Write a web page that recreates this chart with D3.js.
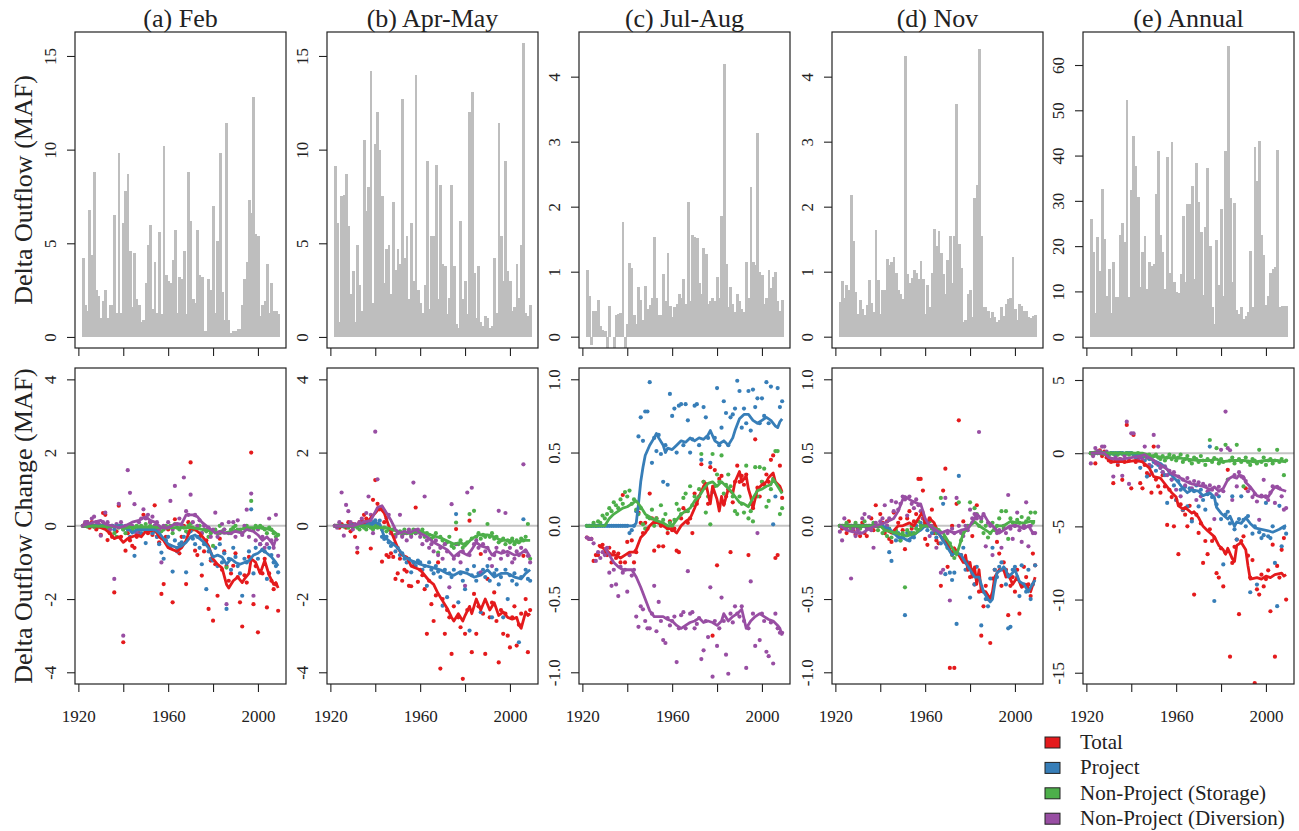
<!DOCTYPE html>
<html>
<head>
<meta charset="utf-8">
<script src="https://cdn.jsdelivr.net/npm/d3@7"></script>
<style>
  body { margin: 0; background: #fff; }
  svg { display: block; }
  text { font-family: "Liberation Serif", "Times New Roman", serif; fill: #222; }
</style>
</head>
<body>
<div id="chart"></div>
<script>
// one value per water year, 1922 .. 2009
const firstYear = 1922;

// ---- top row: delta outflow (MAF) ----
const febBars = [4.2,1.7,1.4,6.8,4.4,8.8,2.5,2.2,1.0,1.9, 2.5,1.0,1.7,1.7,6.5,1.3,9.8,1.3,6.1,7.8,
  8.7,4.6,1.6,4.5,2.0,1.7,0.8,0.9,2.9,4.9, 6.0,1.5,4.0,1.3,5.6,1.2,10.2,3.3,3.0,2.9,
  4.1,5.7,1.3,3.2,3.1,4.6,1.2,8.8,6.2,2.0, 1.8,5.7,3.3,3.2,0.3,0.3,3.1,2.5,7.0,1.3,
  5.1,9.8,2.4,0.9,11.4,0.9,0.2,0.3,0.3,0.4, 0.4,1.7,3.1,4.0,7.3,6.6,12.8,5.5,5.4,1.1,
  1.7,1.9,3.9,1.3,2.9,1.4,1.4,1.2];
const aprBars = [9.1,6.1,0.8,7.5,7.6,8.7,5.9,2.3,3.5,0.8, 4.9,2.8,1.4,10.5,6.7,8.0,14.2,1.8,10.3,12.0,
  10.0,7.5,2.9,4.7,4.9,2.3,7.2,3.6,4.7,3.9, 12.7,4.2,5.4,2.0,6.1,3.0,14.0,2.5,1.8,1.3,
  2.8,9.4,1.5,5.4,5.4,9.2,2.0,8.1,3.9,3.8, 1.2,2.1,8.1,3.8,0.7,0.5,6.2,2.0,3.0,1.2,
  12.0,13.1,3.4,1.0,3.8,0.8,0.6,1.1,1.0,0.5, 0.6,4.2,1.3,11.4,5.4,3.0,9.4,3.5,3.0,1.4,
  1.6,3.9,2.1,4.9,15.7,1.3,1.1,1.7];
const julBars = [1.03,0.62,-0.13,0.40,0.40,0.56,0.17,0.10,0.08,-0.2, 0.47,0.0,-0.2,0.33,0.35,0.37,1.77,-0.2,0.2,1.14,
  1.05,0.33,0.2,0.77,0.57,0.25,0.78,0.43,0.48,0.6, 1.53,0.6,0.33,0.33,0.97,0.55,1.29,0.47,0.3,0.45,
  0.5,0.65,0.6,0.88,0.5,2.07,0.55,1.57,1.53,1.52, 0.82,0.65,1.37,1.27,0.5,0.55,0.6,0.55,0.92,0.6,
  1.85,4.2,1.12,0.45,0.77,0.5,0.38,0.65,0.55,0.42, 0.38,1.15,0.6,2.3,1.15,1.1,3.13,1.0,0.95,0.5,
  0.6,1.02,0.75,0.92,1.0,0.55,0.4,0.57];
const novBars = [0.53,0.86,0.6,0.79,0.72,2.18,1.47,0.68,0.35,0.56, 0.43,0.33,0.48,0.87,0.52,0.38,1.64,0.87,0.35,0.72,
  0.72,1.2,1.1,1.15,1.23,0.98,0.72,0.65,0.58,4.32, 0.97,0.82,0.91,1.02,0.98,0.88,1.17,0.88,0.35,0.8,
  0.45,0.98,1.66,1.4,1.63,1.28,0.97,0.65,1.18,1.55, 0.82,1.55,3.58,1.43,1.05,0.22,0.25,0.65,0.72,0.3,
  2.13,2.33,4.43,1.55,0.45,0.45,0.4,0.28,0.38,0.3, 0.23,0.25,0.45,0.32,0.5,0.58,0.6,1.23,0.42,0.25,
  0.5,0.47,0.4,0.4,0.3,0.28,0.32,0.33];
const annBars = [25.9,18.8,5.2,22.1,14.5,32.6,21.6,9.0,15.0,5.3, 16.4,8.8,8.8,22.5,25.0,21.0,52.3,8.7,32.5,44.3,
  37.6,30.8,11.0,18.7,22.3,10.5,16.5,15.5,16.0,31.5, 41.0,22.5,18.7,10.5,39.7,14.0,43.0,12.0,9.8,9.7,
  13.8,26.7,12.0,29.3,29.3,33.3,12.8,38.3,29.8,23.2, 9.3,24.3,37.3,20.0,6.5,2.8,21.3,11.5,28.2,9.0,
  40.9,64.3,30.6,12.0,29.6,6.0,5.0,6.5,4.0,4.5, 5.5,19.0,6.5,41.8,34.3,43.3,22.5,18.0,7.0,9.0,
  14.0,15.0,15.3,41.2,6.5,6.7,6.7,6.7];

// ---- bottom row: delta outflow change (MAF), yearly points ----
const febTotal = [0,0.05,0.1,-0.05,0.1,0,-0.1,0.05,-0.25,0.35, 0.3,-0.39,-0.2,-0.3,-1.82,-0.15,0.55,-0.3,-3.18,-0.68,
  -0.2,-0.4,-0.55,-0.6,-0.3,-0.2,-0.25,0.3,-0.1,-0.2, 0.1,-0.25,0.56,-0.3,-0.45,-1.86,-1.59,-0.3,-0.1,-0.55,
  -2.09,0.18,-0.6,-0.75,-0.3,0,-1.59,0.1,1.73,-0.1, -0.68,-0.8,-0.3,-1.36,-0.7,-0.4,-2.27,-0.95,-2.59,-1.05,
  -1.91,-0.35,-1.2,-0.7,-1.1,-1.5,-1.3,-1.09,-0.75,-1.4, -2.09,-2.75,-1.35,-1.55,-0.85,2.0,-2.14,-1.1,-2.91,-1.25,
  -1.3,-0.9,-2.23,-1.3,-1.5,-1.73,-1.6,-2.32];
const febProject = [0,0,0,0,0,-0.02,0,0,0,0, 0,0,-0.05,0,-0.1,0,0,0,-0.1,-0.05,
  -0.1,-0.3,-0.15,-0.82,-0.2,-0.1,-0.2,-0.1,-0.47,-0.1, -0.05,-0.2,-0.15,-0.3,-0.5,-0.73,-0.9,-0.4,-0.3,-0.6,
  -1.25,-0.4,-0.7,-0.5,-0.45,-0.3,-1.27,-0.2,-0.15,-0.35, -0.5,-0.3,-0.6,-1.05,-0.5,-1.73,-0.7,-0.9,-0.95,-0.6,
  -1.1,-0.5,-1.0,-0.75,-2.27,-0.9,-1.2,-0.6,-0.85,-1.1, -1.3,-1.91,-0.9,-1.0,-0.7,0.45,-1.3,-0.6,-0.9,-0.5,
  -0.65,-0.7,-1.45,-0.6,-0.8,-1.0,-1.1,-1.27];
const febStorage = [0,0,-0.02,0,0.02,-0.03,0,-0.02,0,0, -0.05,-0.05,-0.1,0,-0.2,-0.3,-0.05,0,-0.1,-0.2,
  -0.05,0,-0.1,-0.05,0,-0.05,0,-0.1,0.05,-0.1, 0,-0.05,0,-0.1,-0.05,-0.15,-0.1,0,-0.05,0,
  -0.2,0.05,-0.05,-0.1,0,-0.05,-0.15,0,0.05,-0.05, -0.1,-0.05,0,-0.2,-0.1,-0.15,-0.3,-0.2,-0.55,-0.1,
  -0.2,0,-0.15,-0.1,-1.14,-0.2,-0.1,-0.05,0,-0.1, -0.15,-0.2,-0.05,0,-0.1,0.68,-0.1,0,-0.05,0,
  -0.05,-0.1,-0.2,-0.05,-0.1,-0.2,-0.3,-0.25];
const febDiversion = [0,0.1,0.1,0.05,0.2,0.25,0.1,0.05,-0.27,0.1, 0.36,0.1,-0.1,0,-1.45,0.05,0.6,0.1,-3.0,0,
  1.52,0.9,0,0.59,-0.2,0.1,0.2,0.45,0.2,0.3, 0.1,0.25,0,0.1,-0.1,-1.0,0,-0.05,0.1,0.68,
  -0.1,1.09,0.05,0.2,0,1.32,0.4,0.3,0.85,0.1, 0.3,0,0.15,-0.2,0,-0.1,-0.05,-0.3,-0.1,0.36,
  -0.3,-0.2,0.05,-0.1,-2.14,0.1,-0.2,0.1,-0.3,0.15, -0.1,-0.25,0,0.44,-0.3,0.88,-1.91,-0.4,-0.1,-0.5,
  -0.3,-0.6,-0.5,0.2,-0.4,-0.6,0.3,-0.82];

const aprTotal = [0,0,-0.05,0.05,0,-0.05,0.1,-0.15,0.05,-0.3, -0.73,0.1,0.15,0.3,0.2,0.1,-0.62,0.71,1.25,0.6,
  0.45,-0.98,0.1,-0.8,-0.85,-0.75,-0.85,-1.45,-1.3,-0.9, -1.5,-1.2,-1.25,-1.64,-1.65,-1.1,0.5,-1.53,-1.2,-1.35,
  -1.73,-2.95,-1.5,-2.14,-2.6,-1.9,-1.0,-3.9,-2.0,-2.95, -2.3,-2.5,-3.5,-2.2,-0.09,-2.5,-2.77,-4.18,-2.95,-2.3,
  0.14,-3.45,-1.86,-2.95,-2.2,-0.77,-2.4,-3.5,-1.45,-2.5, -2.1,-1.82,-2.6,-3.73,-2.3,-2.95,-2.4,-3.0,-3.32,-2.5,
  -2.2,-3.27,-2.7,-2.4,-0.82,-2.0,-3.45,-2.3];
const aprProject = [0,0,0,0,0,0,0,0,0.02,0, 0,0.05,0,0,0.05,0.1,0.05,0.1,0.15,0.05,
  0.14,-0.3,-0.36,-0.3,-0.45,-0.55,-0.5,-0.7,-0.6,-0.8, -0.75,-0.9,-1.0,-0.9,-1.27,-1.0,-1.1,-0.95,-1.0,-1.2,
  -1.1,-1.64,-1.0,-1.2,-1.3,-1.1,-1.25,-1.4,-2.18,-1.2, -1.95,-1.3,-1.4,-1.2,0.32,-2.09,-1.3,-1.5,-1.73,-1.2,
  -2.86,-1.35,-1.1,-1.5,-1.3,-2.36,-1.2,-1.4,-1.1,-1.5, -2.5,-1.3,-1.2,-1.6,-1.4,-2.5,-1.2,-2.0,-1.35,-1.5,
  -1.3,-1.6,-3.18,-1.4,0.18,-1.2,-1.45,-1.5];
const aprStorage = [0,0,0,0,-0.02,0,-0.05,0,-0.05,0, -0.05,-0.1,0,-0.05,-0.1,0,-0.05,-0.1,0,-0.05,
  0,-0.1,-0.05,-0.15,-0.1,-0.2,-0.1,-0.25,-0.2,-0.15, -0.25,-0.1,-0.2,-0.15,-0.25,-0.1,-0.2,-0.15,-0.2,-0.1,
  -0.3,-0.2,-0.25,-0.35,-0.3,-0.2,-0.73,-0.3,-0.4,-0.5, -0.45,-0.3,-0.55,-0.6,0.09,-0.5,-0.4,-0.6,-0.5,-0.45,
  0.32,-0.35,0.41,-0.3,-0.2,-0.35,-0.25,-0.3,0.05,-0.3, -0.2,-0.35,-0.3,-0.45,-0.4,-0.35,-0.5,-0.4,-0.45,-0.35,
  -0.5,-0.4,-0.45,-0.35,-0.4,-0.3,0.05,-0.9];
const aprDiversion = [0,-0.05,0.1,0.91,-0.27,0.57,0.4,0.1,-0.1,0.05, -0.6,0.1,0.2,0.1,0.35,0.8,0.3,-0.2,2.57,1.27,
  0.5,0.45,0.4,0.2,0.3,-0.2,-0.1,-0.3,-0.2,0.3, -0.3,-0.2,-0.4,-0.1,-0.3,1.18,-0.2,-0.1,-0.3,-0.5,
  0.8,-0.4,-0.6,-0.5,-0.7,-0.4,-0.8,-0.6,-0.9,-0.5, -0.7,-1.68,0.59,-0.9,-0.5,-0.8,-1.0,-0.7,-1.64,0.91,
  -0.8,1.04,-0.5,-0.4,-0.6,-1.27,-0.5,-0.7,-0.6,-0.9, -1.1,-0.8,-0.6,0.41,-0.9,-0.7,0.35,-0.8,-0.6,-1.0,
  -0.9,-0.7,-0.8,-0.6,1.68,-0.7,-0.82,-1.0];

const julTotal = [-0.08,-0.09,-0.09,-0.24,-0.2,-0.2,-0.14,-0.13,-0.18,-0.2, -0.15,-0.25,-0.18,-0.22,-0.19,-0.25,0.21,-0.25,-0.11,-0.2,
  -0.1,-0.25,-0.18,0.09,0.02,-0.05,0.02,-0.02,0.22,0.05, -0.17,0.05,-0.14,0,-0.14,0,-0.05,0.03,-0.03,-0.02,
  -0.17,-0.18,0.05,0.12,0.1,0.02,0.05,-0.05,0.22,0.15, 0.2,0.42,0.3,0.26,0.15,0.4,-0.75,0.38,-0.27,0.32,
  0.34,0.15,0.2,0.25,-0.18,0.16,0.3,0.41,0.3,0.34, 0.28,0.35,-0.2,0.15,0.12,0.59,0.26,0.2,0.3,0.28,
  0.35,0.3,0.45,0.48,-0.22,-0.2,0.41,0.19];
const julProject = [0,0,0,0,0,0,0,0,0,0, 0,0,0,0,0,0,0,0,0,-0.05,
  -0.03,0,0.1,0.61,0.74,0.58,0.78,0.78,0.98,0.43, 0.6,0.51,0.62,0.49,0.3,0.55,0.28,0.9,0.75,0.8,
  0.5,0.82,0.83,0.55,0.83,0.72,0.5,0.59,0.82,0.83, 0.55,0.45,0.81,0.74,0.6,0.43,0.23,0.6,0.94,0.55,
  0.67,0.85,0.77,0.55,0.74,0.76,0.8,0.99,0.92,0.67, 0.8,0.7,0.92,0.65,0.93,0.81,0.87,0.7,0.87,0.75,
  0.98,0.7,0.95,0.01,0.2,0.94,0.81,0.85];
const julStorage = [0,0,0,0.02,0,0.03,0.02,0.07,0.05,0.08, 0.12,0.1,0.16,0.14,0.12,0.18,0.15,0.23,0.2,0.24,
  0.15,0.18,0.11,0.08,0.12,0.01,-0.02,0.06,0.05,0.11, 0,0.05,0.02,0.14,0.04,0.08,-0.02,0.02,0,0.04,
  0.15,0.11,0.08,0.19,0.22,0.1,0.27,0.14,0.2,0.17, 0.25,0.49,0.3,0.09,0.2,0.01,0.49,0.27,0.35,0.3,
  0.48,0.22,0.28,0.35,0.27,0.2,0.1,0.08,0.2,0.15, 0.09,0.41,0.05,0.1,0.03,0.4,0.2,0.4,0.3,0.39,
  0.13,0.17,0.25,0.32,0.51,0.51,0.08,0.12];
const julDiversion = [-0.08,-0.09,-0.09,-0.12,-0.24,-0.18,-0.22,-0.18,-0.2,-0.15, -0.32,-0.41,-0.3,-0.4,-0.48,-0.28,-0.32,-0.3,-0.45,-0.2,
  -0.34,-0.3,-0.62,-0.69,-0.55,-0.57,-0.65,-0.7,-0.7,-0.6, -0.41,-0.72,-0.52,-0.65,-0.78,-0.8,-0.63,-0.68,-0.65,-0.62,
  -0.93,-0.7,-0.61,-0.59,-0.7,-0.31,-0.6,-0.59,-0.7,-0.67, -0.63,-0.91,-0.85,-0.65,-0.76,-0.42,-1.03,-0.65,-0.82,-0.7,
  -0.49,-0.65,-0.88,-1.01,-0.6,-0.66,-0.55,-0.6,-0.62,-0.55, -0.65,-0.97,-0.7,-0.38,-0.6,-0.82,-0.05,-0.78,-0.6,-0.65,
  -0.86,-0.89,-0.66,-0.94,-0.6,-0.7,-0.73,-0.73];

const novTotal = [0,-0.02,0,-0.05,0.03,0,-0.03,-0.06,-0.02,-0.07, 0.02,-0.05,-0.07,0,0.05,-0.03,0.14,0,0.08,0.02,
  -0.05,0.03,-0.09,-0.11,0.09,-0.05,0.02,0.05,-0.03,-0.16, 0.05,0.1,-0.02,0.03,0.08,0.32,0.32,0.24,-0.09,-0.13,
  0.05,0.11,-0.05,-0.1,-0.12,-0.41,0.24,0.39,-0.28,-0.97, 0,-0.97,0.15,0.72,-0.2,0.03,-0.25,-0.3,-0.35,-0.07,
  -0.4,0.14,-0.45,-0.75,-0.55,-0.41,-0.5,-0.8,-0.36,-0.3, -0.11,-0.19,-0.41,-0.25,-0.3,-0.61,-0.41,-0.35,-0.45,-0.3,
  -0.6,-0.41,-0.28,-0.35,-0.4,-0.48,-0.19,-0.27];
const novProject = [0,0,0,0,0,0,0,0,0,0, 0,0,0,0,0,0,0,0,0,0,
  -0.02,0,-0.18,-0.24,-0.05,-0.1,-0.05,-0.1,-0.08,-0.61, -0.05,-0.1,-0.05,-0.08,0,-0.03,0.02,0,0.02,-0.03,
  0,-0.05,0,-0.08,-0.05,-0.12,0.15,-0.33,-0.15,-0.32, -0.37,-0.32,-0.67,0.34,-0.2,-0.15,-0.3,-0.25,-0.49,-0.3,
  -0.4,-0.28,-0.35,-0.68,-0.45,-0.5,-0.55,-0.36,-0.15,-0.3, -0.35,-0.28,-0.25,-0.3,-0.4,-0.7,-0.69,-0.3,-0.28,-0.35,
  -0.48,-0.27,-0.4,-0.45,-0.3,-0.5,-0.4,-0.27];
const novStorage = [0,0,0,0.02,0,-0.02,0,0.02,0,-0.02, 0,0.03,0,-0.02,0,0.02,0,-0.03,0,-0.05,
  -0.03,-0.07,-0.02,-0.08,-0.05,-0.03,-0.06,-0.1,-0.05,-0.42, -0.03,-0.05,0,-0.05,-0.02,0.03,0,0.05,0.02,0,
  0.03,-0.02,0,-0.05,-0.03,0.19,-0.08,-0.1,-0.15,-0.12, -0.2,-0.22,-0.18,0.16,-0.1,-0.05,-0.03,0,0.16,0.02,
  0.12,0.08,0,0.03,-0.05,0,-0.08,-0.05,0.02,-0.03, 0,0.05,0.1,-0.02,0.1,-0.09,0.05,0.02,0,0.04,
  0.02,0.06,0,0.03,0.05,0.09,0.02,0.09];
const novDiversion = [-0.04,-0.1,0.05,-0.02,0,-0.36,-0.02,-0.07,-0.03,-0.05, 0.05,0.08,-0.02,0.06,-0.03,-0.15,0.02,0,0.03,0.05,
  0.14,0,0.05,0.17,0.1,0.16,0.11,0.15,0.2,0.18, 0.07,0.2,0.15,0.12,0.18,0.14,0.1,0.05,0,0.02,
  -0.07,0,-0.03,-0.15,-0.05,-0.32,-0.3,0.19,-0.05,-0.51, -0.02,-0.05,0.19,0,-0.05,-0.07,0,-0.03,0.11,0.05,
  0.08,0.05,0.64,0.05,0.08,-0.14,0.02,0,-0.2,-0.02, -0.05,-0.03,-0.15,0,-0.05,0.21,-0.02,-0.09,0,0.09,
  -0.03,-0.11,0,0.16,-0.14,0,-0.05,-0.05];

const annTotal = [0,-0.1,-0.7,0.1,0.2,-0.2,0.1,-0.3,-0.5,-0.6, -2.05,-0.5,-0.8,-0.4,-1.82,-0.6,1.93,-0.5,-2.4,1.25,
  -0.6,-0.4,-2.05,-2.4,-0.8,-1.36,-1.5,-2.7,0.45,-1.8, -2.27,-2.7,-1.5,-2.27,-4.9,-2.5,-3.0,-5.0,-3.2,-6.9,
  -3.5,-3.9,-4.2,-5.0,-3.6,-4.5,-9.66,-4.2,-5.45,-4.8, -7.5,-6.0,-6.9,-5.2,-6.0,-5.8,-8.2,-8.5,-6.5,-9.1,
  -6.8,-1.14,-13.9,-7.5,-6.4,-5.9,-11.0,-6.0,-5.68,-2.4, -7.0,-8.5,-7.3,-15.7,-9.3,-9.66,-8.3,-9.1,-8.6,-8.0,
  -10.8,-6.25,-13.9,-7.7,-8.5,-6.6,-5.8,-10.0];
const annProject = [0,0,0,0,0,0,0,0,-0.1,0, 0,-0.2,0,0,0,-0.1,0,0,0,-0.1,
  -0.3,-0.2,-1.0,-0.3,-0.5,-1.6,-0.4,-0.9,-0.6,-1.2, -0.8,-1.0,-1.3,-1.5,-3.4,-1.4,-1.8,-2.2,-3.2,-1.9,
  -2.5,-3.86,-2.3,-3.64,-2.4,-4.66,-2.6,-2.2,-3.64,-2.5, -3.2,-3.86,-2.8,0.45,-3.0,-10.1,-3.5,-2.95,-4.5,-7.6,
  -4.2,-4.0,-4.8,-2.95,-5.2,-5.9,-4.5,-2.95,-4.55,-5.0, -4.3,-9.5,-5.5,-5.0,-8.98,-5.4,-5.8,-5.6,-3.4,-5.68,
  -5.8,-5.0,-7.5,-10.45,-3.6,-6.36,-5.1,-5.5];
const annStorage = [0,0,0.05,0,0.1,0,-0.05,0,-0.1,0, -0.05,0,-0.1,0,-0.05,-0.1,0,-0.1,0,-0.05,
  -0.1,0,-0.2,-0.1,-0.2,-0.3,-0.1,-0.4,-0.2,-0.1, -0.3,-0.4,-0.2,-0.5,-0.3,-0.1,-0.4,-0.2,-0.5,-0.3,
  -0.1,-0.6,-0.4,-0.2,-0.5,-0.7,-0.3,-0.4,-0.6,-0.2, -0.5,-0.8,-0.4,0.9,-0.6,-0.34,0.34,-0.7,-0.4,-0.6,
  0.57,-1.8,-0.5,-0.3,-0.7,0.57,-0.4,-0.6,-2.27,-0.3, -0.6,-0.8,-0.4,-0.5,-0.7,0.23,-0.6,-0.3,-0.8,-0.5,
  -0.4,-0.7,-0.5,0.23,-0.6,-0.4,-1.5,-0.5];
const annDiversion = [-0.7,-0.2,0.35,0.15,0.1,0.45,0.45,0.1,-0.3,-0.5, -1.6,-0.3,-0.6,-0.4,-1.55,-0.2,2.15,-2.1,1.36,1.36,
  -0.2,-0.5,-0.3,-0.45,0.45,-0.3,-0.8,-1.36,1.25,-0.7, 0.45,-1.0,-1.3,-0.9,-1.5,-1.2,-1.8,-1.3,-2.5,-1.6,
  -2.95,-1.8,-2.2,-1.7,-2.0,-2.4,-1.9,-3.2,-2.0,-2.95, -2.1,-2.27,-2.6,-2.2,-2.5,-4.5,-2.8,-2.3,0.23,-2.6,
  2.84,0.34,0.2,-3.2,-1.5,-2.27,-1.3,-1.6,-1.7,-1.9, -2.6,-2.4,-3.0,-2.8,-3.3,-4.55,-2.9,-1.82,-3.0,-3.2,
  -2.7,-2.27,-3.4,-2.3,-2.4,-2.95,-3.86,-3.75];

// ---- bottom row: running trend lines, [year, value] ----
const febTotalLine = [[1922,0],[1926,0],[1930,-0.05],[1932,-0.1],[1934,-0.2],[1936,-0.35],[1938,-0.3],[1940,-0.45],[1942,-0.35],[1944,-0.3],[1946,-0.25],[1948,-0.3],[1950,-0.15],[1952,-0.15],[1954,-0.1],[1956,-0.3],[1958,-0.4],[1960,-0.6],[1962,-0.65],[1964,-0.7],[1966,-0.6],[1968,-0.4],[1970,-0.05],[1972,-0.1],[1974,-0.2],[1976,-0.35],[1978,-0.55],[1980,-0.9],[1982,-1.05],[1984,-1.15],[1986,-1.6],[1987,-1.7],[1989,-1.5],[1991,-1.4],[1993,-1.55],[1994,-1.45],[1996,-1.3],[1997,-0.9],[1999,-1.0],[2001,-1.3],[2003,-0.95],[2005,-1.35],[2007,-1.6],[2008,-1.55],[2009,-1.7]];
const febProjectLine = [[1922,0],[1940,0],[1942,-0.05],[1944,-0.2],[1946,-0.1],[1950,-0.1],[1954,-0.1],[1956,-0.2],[1958,-0.35],[1960,-0.5],[1962,-0.55],[1964,-0.6],[1966,-0.55],[1968,-0.45],[1970,-0.3],[1972,-0.25],[1974,-0.35],[1976,-0.45],[1978,-0.6],[1980,-0.85],[1982,-0.8],[1984,-0.85],[1986,-1.05],[1988,-0.9],[1990,-1.0],[1992,-1.05],[1994,-1.0],[1996,-0.95],[1998,-0.8],[2000,-0.75],[2002,-0.65],[2004,-0.75],[2006,-0.85],[2008,-1.0],[2009,-1.1]];
const febStorageLine = [[1922,0],[1935,-0.02],[1940,-0.05],[1950,-0.03],[1960,-0.05],[1970,-0.05],[1975,-0.1],[1980,-0.15],[1985,-0.2],[1988,-0.15],[1992,-0.1],[1996,-0.05],[2000,-0.05],[2004,-0.08],[2007,-0.15],[2009,-0.25]];
const febDiversionLine = [[1922,0],[1924,0.05],[1927,0.1],[1930,0.15],[1932,0.05],[1935,0],[1938,-0.05],[1941,0],[1944,0.1],[1947,0.15],[1950,0.25],[1952,0.15],[1954,0.1],[1957,-0.05],[1960,-0.05],[1963,0.05],[1966,0.05],[1968,0.3],[1971,0.3],[1973,0.25],[1975,0.1],[1977,0],[1979,-0.1],[1981,-0.2],[1983,-0.15],[1985,-0.2],[1988,-0.2],[1990,-0.15],[1993,-0.2],[1995,-0.1],[1998,-0.15],[2000,-0.25],[2002,-0.4],[2004,-0.3],[2006,-0.45],[2007,-0.55],[2008,-0.35],[2009,-0.4]];

const aprTotalLine = [[1922,0],[1930,0],[1934,0.05],[1937,0.15],[1940,0.35],[1942,0.5],[1944,0.35],[1946,0],[1948,-0.3],[1950,-0.6],[1952,-0.8],[1954,-0.85],[1956,-1.1],[1958,-1.15],[1960,-1.2],[1962,-1.35],[1964,-1.5],[1966,-1.6],[1968,-1.85],[1970,-2.05],[1972,-2.25],[1974,-2.5],[1975,-2.6],[1977,-2.4],[1979,-2.6],[1980,-2.45],[1982,-2.2],[1983,-2.4],[1985,-2.0],[1987,-2.3],[1989,-2.0],[1991,-2.3],[1993,-2.1],[1995,-2.45],[1997,-2.35],[1999,-2.5],[2001,-2.55],[2003,-2.5],[2004,-2.7],[2005,-2.8],[2007,-2.35],[2008,-2.45],[2009,-2.4]];
const aprProjectLine = [[1922,0],[1938,0],[1940,0.1],[1942,0.05],[1944,-0.3],[1946,-0.4],[1950,-0.6],[1953,-0.85],[1956,-0.95],[1960,-1.05],[1963,-1.1],[1966,-1.15],[1969,-1.2],[1972,-1.3],[1975,-1.35],[1978,-1.25],[1981,-1.3],[1984,-1.4],[1987,-1.35],[1990,-1.2],[1993,-1.4],[1996,-1.3],[1999,-1.3],[2002,-1.4],[2005,-1.45],[2007,-1.3],[2009,-1.2]];
const aprStorageLine = [[1922,0],[1935,0],[1940,-0.05],[1945,-0.05],[1950,-0.15],[1955,-0.2],[1960,-0.15],[1965,-0.25],[1970,-0.35],[1975,-0.5],[1978,-0.45],[1980,-0.55],[1983,-0.35],[1986,-0.25],[1990,-0.25],[1993,-0.3],[1996,-0.4],[2000,-0.4],[2003,-0.45],[2006,-0.4],[2009,-0.4]];
const aprDiversionLine = [[1922,0],[1930,0],[1935,0.1],[1938,0.15],[1941,0.5],[1943,0.55],[1945,0.35],[1947,0.15],[1949,-0.1],[1951,-0.2],[1953,-0.15],[1955,-0.2],[1958,-0.1],[1960,-0.2],[1963,-0.3],[1966,-0.45],[1969,-0.55],[1972,-0.65],[1975,-0.85],[1978,-0.7],[1981,-0.8],[1983,-0.65],[1985,-0.45],[1987,-0.55],[1990,-0.6],[1992,-0.8],[1994,-0.7],[1996,-0.75],[1999,-0.7],[2002,-0.8],[2005,-0.75],[2007,-0.65],[2009,-0.85]];

const julTotalLine = [[1927,-0.13],[1929,-0.15],[1931,-0.17],[1933,-0.2],[1935,-0.2],[1937,-0.22],[1939,-0.2],[1941,-0.18],[1943,-0.18],[1944,-0.16],[1946,-0.08],[1948,-0.05],[1950,0],[1952,0.03],[1954,0.02],[1956,0],[1958,-0.02],[1960,-0.02],[1962,-0.05],[1964,0],[1966,0.03],[1968,0.05],[1970,0.12],[1972,0.2],[1974,0.27],[1975,0.29],[1976,0.22],[1977,0.15],[1978,0.27],[1980,0.18],[1981,0.1],[1982,0.2],[1983,0.14],[1985,0.25],[1987,0.22],[1988,0.3],[1990,0.37],[1991,0.3],[1993,0.34],[1994,0.25],[1995,0.2],[1996,0.12],[1998,0.25],[2000,0.28],[2002,0.3],[2003,0.33],[2005,0.36],[2006,0.3],[2008,0.27],[2009,0.23]];
const julProjectLine = [[1922,0],[1943,0],[1944,0.02],[1945,0.15],[1946,0.3],[1947,0.4],[1948,0.48],[1950,0.55],[1952,0.6],[1953,0.63],[1954,0.6],[1956,0.55],[1957,0.5],[1958,0.53],[1960,0.52],[1962,0.55],[1964,0.58],[1966,0.57],[1968,0.6],[1970,0.58],[1972,0.6],[1974,0.59],[1976,0.62],[1977,0.65],[1979,0.58],[1981,0.56],[1983,0.58],[1985,0.55],[1987,0.6],[1988,0.65],[1990,0.73],[1992,0.76],[1994,0.76],[1996,0.72],[1998,0.7],[2000,0.72],[2002,0.74],[2004,0.72],[2006,0.68],[2007,0.67],[2008,0.71],[2009,0.73]];
const julStorageLine = [[1922,0],[1930,0],[1932,0.05],[1934,0.08],[1936,0.1],[1938,0.12],[1940,0.13],[1942,0.15],[1944,0.17],[1946,0.13],[1948,0.08],[1950,0.06],[1952,0.04],[1954,0.03],[1956,0.02],[1958,0],[1960,0],[1962,0.04],[1964,0.08],[1966,0.1],[1968,0.12],[1970,0.17],[1972,0.2],[1974,0.25],[1976,0.29],[1978,0.3],[1980,0.27],[1982,0.3],[1984,0.27],[1986,0.24],[1988,0.2],[1990,0.16],[1992,0.15],[1994,0.13],[1996,0.19],[1998,0.24],[2000,0.25],[2002,0.27],[2004,0.28],[2005,0.32],[2007,0.27],[2009,0.22]];
const julDiversionLine = [[1930,-0.15],[1932,-0.2],[1934,-0.25],[1936,-0.28],[1938,-0.3],[1940,-0.3],[1942,-0.3],[1944,-0.35],[1946,-0.42],[1948,-0.5],[1950,-0.58],[1952,-0.62],[1954,-0.62],[1956,-0.62],[1958,-0.64],[1960,-0.65],[1962,-0.68],[1964,-0.7],[1966,-0.68],[1968,-0.66],[1970,-0.65],[1972,-0.63],[1974,-0.66],[1976,-0.65],[1978,-0.66],[1980,-0.68],[1982,-0.65],[1983,-0.6],[1985,-0.65],[1987,-0.62],[1989,-0.6],[1991,-0.57],[1993,-0.7],[1995,-0.65],[1997,-0.62],[1999,-0.6],[2001,-0.62],[2003,-0.64],[2005,-0.65],[2007,-0.68],[2008,-0.7],[2009,-0.75]];

const novTotalLine = [[1922,0],[1940,0],[1942,-0.02],[1945,-0.05],[1948,0],[1950,0],[1953,0.02],[1955,0],[1957,0.05],[1959,0.1],[1960,0],[1962,0.05],[1964,0.02],[1966,-0.05],[1968,-0.1],[1970,-0.12],[1972,-0.2],[1973,-0.15],[1975,-0.2],[1977,-0.25],[1978,-0.2],[1979,-0.3],[1980,-0.25],[1981,-0.35],[1982,-0.28],[1983,-0.4],[1984,-0.3],[1985,-0.45],[1987,-0.45],[1989,-0.5],[1990,-0.45],[1991,-0.35],[1993,-0.3],[1995,-0.3],[1996,-0.35],[1997,-0.33],[1999,-0.4],[2001,-0.35],[2003,-0.42],[2005,-0.4],[2007,-0.45],[2009,-0.35]];
const novProjectLine = [[1922,0],[1940,0],[1944,-0.02],[1946,-0.05],[1948,-0.08],[1950,-0.08],[1952,-0.1],[1954,-0.08],[1956,-0.05],[1958,-0.03],[1960,0],[1962,0],[1964,-0.02],[1966,-0.05],[1968,-0.1],[1970,-0.15],[1972,-0.2],[1974,-0.18],[1976,-0.2],[1978,-0.25],[1980,-0.3],[1982,-0.35],[1984,-0.35],[1986,-0.45],[1988,-0.5],[1989,-0.52],[1990,-0.5],[1991,-0.4],[1992,-0.32],[1994,-0.3],[1995,-0.28],[1996,-0.3],[1997,-0.35],[1999,-0.32],[2000,-0.3],[2002,-0.38],[2004,-0.4],[2006,-0.45],[2007,-0.42],[2009,-0.37]];
const novStorageLine = [[1922,0],[1940,0],[1942,-0.03],[1947,-0.05],[1952,-0.07],[1956,-0.05],[1959,0],[1962,0],[1965,-0.02],[1968,-0.05],[1970,-0.1],[1972,-0.15],[1974,-0.2],[1975,-0.15],[1977,-0.05],[1980,0],[1982,0.03],[1984,0],[1987,-0.03],[1989,-0.05],[1992,0],[1995,0],[1998,0.03],[2001,0.02],[2004,0.02],[2007,0.03],[2009,0.03]];
const novDiversionLine = [[1922,0],[1925,-0.03],[1930,-0.05],[1932,-0.05],[1935,-0.02],[1938,0],[1942,0.02],[1946,0.05],[1948,0.1],[1950,0.18],[1951,0.2],[1954,0.17],[1957,0.15],[1958,0.15],[1960,0.05],[1962,0],[1964,-0.02],[1967,-0.05],[1970,-0.03],[1973,-0.05],[1976,-0.03],[1979,-0.02],[1982,0.05],[1983,0.08],[1985,0.05],[1986,0.08],[1988,0.03],[1990,0],[1993,-0.05],[1995,-0.03],[1998,0],[2001,0],[2004,-0.02],[2006,0],[2008,-0.05],[2009,-0.05]];

const annTotalLine = [[1922,0],[1929,0],[1930,-0.5],[1932,-0.6],[1935,-0.55],[1938,-0.6],[1940,-0.55],[1942,-0.5],[1945,-0.6],[1948,-1.0],[1950,-1.6],[1953,-1.7],[1954,-1.9],[1956,-2.3],[1958,-2.7],[1960,-3.0],[1961,-3.6],[1963,-3.8],[1964,-3.7],[1967,-4.1],[1968,-4.0],[1970,-4.4],[1972,-5.0],[1974,-5.3],[1977,-5.7],[1979,-6.3],[1981,-6.6],[1982,-6.9],[1983,-6.5],[1985,-7.2],[1986,-7.4],[1987,-6.3],[1989,-6.1],[1991,-6.6],[1992,-7.7],[1993,-8.6],[1996,-8.5],[1998,-8.6],[2000,-8.4],[2002,-8.5],[2004,-8.3],[2007,-8.2],[2008,-8.4],[2009,-8.3]];
const annProjectLine = [[1922,0],[1940,0],[1942,-0.1],[1946,-0.1],[1948,-0.3],[1950,-0.5],[1953,-0.7],[1956,-1.1],[1958,-1.5],[1961,-2.0],[1963,-2.4],[1965,-2.7],[1967,-2.5],[1970,-2.6],[1972,-2.9],[1975,-2.7],[1977,-3.0],[1978,-3.7],[1980,-4.1],[1983,-4.5],[1984,-4.3],[1986,-5.0],[1987,-4.7],[1989,-4.8],[1991,-4.4],[1993,-4.8],[1995,-5.1],[1998,-5.2],[2001,-5.3],[2003,-5.4],[2006,-5.2],[2008,-5.0],[2009,-4.95]];
const annStorageLine = [[1922,0],[1945,0],[1948,-0.15],[1950,-0.2],[1955,-0.3],[1960,-0.3],[1965,-0.4],[1970,-0.5],[1975,-0.5],[1978,-0.4],[1980,-0.6],[1985,-0.5],[1990,-0.5],[1995,-0.6],[2000,-0.5],[2005,-0.5],[2009,-0.6]];
const annDiversionLine = [[1922,0],[1928,0],[1930,-0.3],[1933,-0.4],[1936,-0.4],[1940,-0.3],[1944,-0.2],[1946,-0.1],[1948,-0.3],[1950,-0.5],[1953,-0.8],[1956,-1.1],[1958,-1.4],[1961,-1.6],[1964,-1.9],[1967,-2.1],[1970,-2.2],[1973,-2.3],[1975,-2.5],[1977,-2.3],[1979,-2.6],[1981,-2.4],[1983,-1.8],[1985,-1.6],[1987,-1.7],[1988,-1.5],[1990,-1.6],[1991,-2.0],[1993,-2.3],[1996,-2.9],[1998,-3.0],[2000,-2.9],[2001,-3.0],[2003,-2.5],[2004,-2.3],[2007,-2.5],[2009,-2.6]];

const seriesNames = ["Total", "Project", "Non-Project (Storage)", "Non-Project (Diversion)"];
const seriesColors = ["#e41a1c", "#377eb8", "#4daf4a", "#984ea3"];
const xTicks = [1920, 1940, 1960, 1980, 2000];
const xLabels = [1920, 1960, 2000];

// plain hyphen for negative tick labels, like the original
const loc = d3.formatLocale({decimal: ".", thousands: ",", grouping: [3], currency: ["", ""], minus: "-"});
const fmtInt = loc.format("d"), fmtOne = loc.format(".1f");

// panel table, built from the arrays above
const panels = [
  {title: "(a) Feb", bars: febBars, barDom: [-0.59, 16.28], barTicks: [0, 5, 10, 15],
   chgDom: [-4.32, 4.31], chgTicks: [-4, -2, 0, 2, 4], fmt: fmtInt,
   pts: [febTotal, febProject, febStorage, febDiversion],
   lines: [febTotalLine, febProjectLine, febStorageLine, febDiversionLine]},
  {title: "(b) Apr-May", bars: aprBars, barDom: [-0.59, 16.28], barTicks: [0, 5, 10, 15],
   chgDom: [-4.32, 4.31], chgTicks: [-4, -2, 0, 2, 4], fmt: fmtInt,
   pts: [aprTotal, aprProject, aprStorage, aprDiversion],
   lines: [aprTotalLine, aprProjectLine, aprStorageLine, aprDiversionLine]},
  {title: "(c) Jul-Aug", bars: julBars, barDom: [-0.174, 4.687], barTicks: [0, 1, 2, 3, 4],
   chgDom: [-1.08, 1.077], chgTicks: [-1, -0.5, 0, 0.5, 1], fmt: fmtOne,
   pts: [julTotal, julProject, julStorage, julDiversion],
   lines: [julTotalLine, julProjectLine, julStorageLine, julDiversionLine]},
  {title: "(d) Nov", bars: novBars, barDom: [-0.174, 4.687], barTicks: [0, 1, 2, 3, 4],
   chgDom: [-1.08, 1.077], chgTicks: [-1, -0.5, 0, 0.5, 1], fmt: fmtOne,
   pts: [novTotal, novProject, novStorage, novDiversion],
   lines: [novTotalLine, novProjectLine, novStorageLine, novDiversionLine]},
  {title: "(e) Annual", bars: annBars, barDom: [-2.5, 67.29], barTicks: [0, 10, 20, 30, 40, 50, 60],
   chgDom: [-15.77, 5.82], chgTicks: [-15, -10, -5, 0, 5], fmt: fmtInt,
   pts: [annTotal, annProject, annStorage, annDiversion],
   lines: [annTotalLine, annProjectLine, annStorageLine, annDiversionLine]}
];

const width = 1299, height = 831;
const lefts = [75, 327, 579, 832, 1083];
const plotW = 211;
const topRow = [32, 348], botRow = [368, 684];

const svg = d3.select("#chart").append("svg")
  .attr("width", width).attr("height", height);

function yAxis(g, y, ticks, fmt) {
  g.call(d3.axisLeft(y).tickValues(ticks).tickSize(8).tickFormat(fmt));
  g.select(".domain").remove();
  g.selectAll(".tick line").attr("stroke", "#222").attr("stroke-width", 1.1);
  g.selectAll(".tick text")
    .attr("transform", "rotate(-90)")
    .attr("x", 0).attr("y", -19).attr("dy", 0)
    .attr("text-anchor", "middle")
    .style("font-size", "17px").style("font-family", "Liberation Serif, serif");
}

function xAxis(g, x, withLabels) {
  g.call(d3.axisBottom(x).tickValues(xTicks).tickSize(8)
    .tickFormat(d => (withLabels && xLabels.includes(d)) ? d : ""));
  g.select(".domain").remove();
  g.selectAll(".tick line").attr("stroke", "#222").attr("stroke-width", 1.1);
  g.selectAll(".tick text").attr("y", 38).attr("dy", 0)
    .style("font-size", "17px").style("font-family", "Liberation Serif, serif");
}

panels.forEach((p, i) => {
  const x0 = lefts[i];
  const x = d3.scaleLinear().domain([1918.5, 2012.5]).range([x0, x0 + plotW]);
  const yTop = d3.scaleLinear().domain(p.barDom).range([topRow[1], topRow[0]]);
  const yBot = d3.scaleLinear().domain(p.chgDom).range([botRow[1], botRow[0]]);
  const bw = x(1923) - x(1922);

  // clip regions
  const defs = svg.append("defs");
  defs.append("clipPath").attr("id", "clipT" + i).append("rect")
    .attr("x", x0).attr("y", topRow[0]).attr("width", plotW).attr("height", topRow[1] - topRow[0]);
  defs.append("clipPath").attr("id", "clipB" + i).append("rect")
    .attr("x", x0).attr("y", botRow[0]).attr("width", plotW).attr("height", botRow[1] - botRow[0]);

  // title
  svg.append("text").attr("x", x0 + plotW / 2).attr("y", 27)
    .attr("text-anchor", "middle").style("font-size", "26px").text(p.title);

  // top: bars
  svg.append("g").attr("clip-path", `url(#clipT${i})`)
    .attr("shape-rendering", "crispEdges")
    .selectAll("rect").data(p.bars).join("rect")
    .attr("x", (d, k) => x(firstYear + k) - bw / 2)
    .attr("width", bw + 0.6)
    .attr("y", d => yTop(Math.max(0, d)))
    .attr("height", d => Math.abs(yTop(d) - yTop(0)))
    .attr("fill", "#bebebe");

  svg.append("rect").attr("x", x0).attr("y", topRow[0])
    .attr("width", plotW).attr("height", topRow[1] - topRow[0])
    .attr("fill", "none").attr("stroke", "#222").attr("stroke-width", 1.2);
  svg.append("g").attr("transform", `translate(${x0},0)`)
    .call(g => yAxis(g, yTop, p.barTicks, fmtInt));
  svg.append("g").attr("transform", `translate(0,${topRow[1]})`)
    .call(g => xAxis(g, x, false));

  // bottom: change points and trend lines
  const gb = svg.append("g").attr("clip-path", `url(#clipB${i})`);
  gb.append("line").attr("x1", x0).attr("x2", x0 + plotW)
    .attr("y1", yBot(0)).attr("y2", yBot(0))
    .attr("stroke", "#c4c4c4").attr("stroke-width", 2);

  p.pts.forEach((arr, s) => {
    gb.append("g").selectAll("circle").data(arr).join("circle")
      .attr("cx", (d, k) => x(firstYear + k))
      .attr("cy", d => yBot(d))
      .attr("r", 2.1)
      .attr("fill", seriesColors[s]);
  });

  const line = d3.line().x(d => x(d[0])).y(d => yBot(d[1]));
  p.lines.forEach((knots, s) => {
    gb.append("path").datum(knots)
      .attr("d", line)
      .attr("fill", "none")
      .attr("stroke", seriesColors[s])
      .attr("stroke-width", 2.8)
      .attr("stroke-linejoin", "round");
  });

  svg.append("rect").attr("x", x0).attr("y", botRow[0])
    .attr("width", plotW).attr("height", botRow[1] - botRow[0])
    .attr("fill", "none").attr("stroke", "#222").attr("stroke-width", 1.2);
  svg.append("g").attr("transform", `translate(${x0},0)`)
    .call(g => yAxis(g, yBot, p.chgTicks, p.fmt));
  svg.append("g").attr("transform", `translate(0,${botRow[1]})`)
    .call(g => xAxis(g, x, true));
});

// y axis titles
svg.append("text")
  .attr("transform", `translate(32,${(topRow[0] + topRow[1]) / 2}) rotate(-90)`)
  .attr("text-anchor", "middle").style("font-size", "26px")
  .text("Delta Outflow (MAF)");
svg.append("text")
  .attr("transform", `translate(32,${(botRow[0] + botRow[1]) / 2}) rotate(-90)`)
  .attr("text-anchor", "middle").style("font-size", "26px")
  .text("Delta Outflow Change (MAF)");

// legend
const legend = svg.append("g").attr("transform", "translate(1045,737)");
seriesNames.forEach((name, s) => {
  const row = legend.append("g").attr("transform", `translate(0,${s * 25.4})`);
  row.append("rect").attr("width", 15).attr("height", 11)
    .attr("fill", seriesColors[s]).attr("stroke", "#222").attr("stroke-width", 1);
  row.append("text").attr("x", 35).attr("y", 12)
    .style("font-size", "21px").text(name);
});
</script>
</body>
</html>
